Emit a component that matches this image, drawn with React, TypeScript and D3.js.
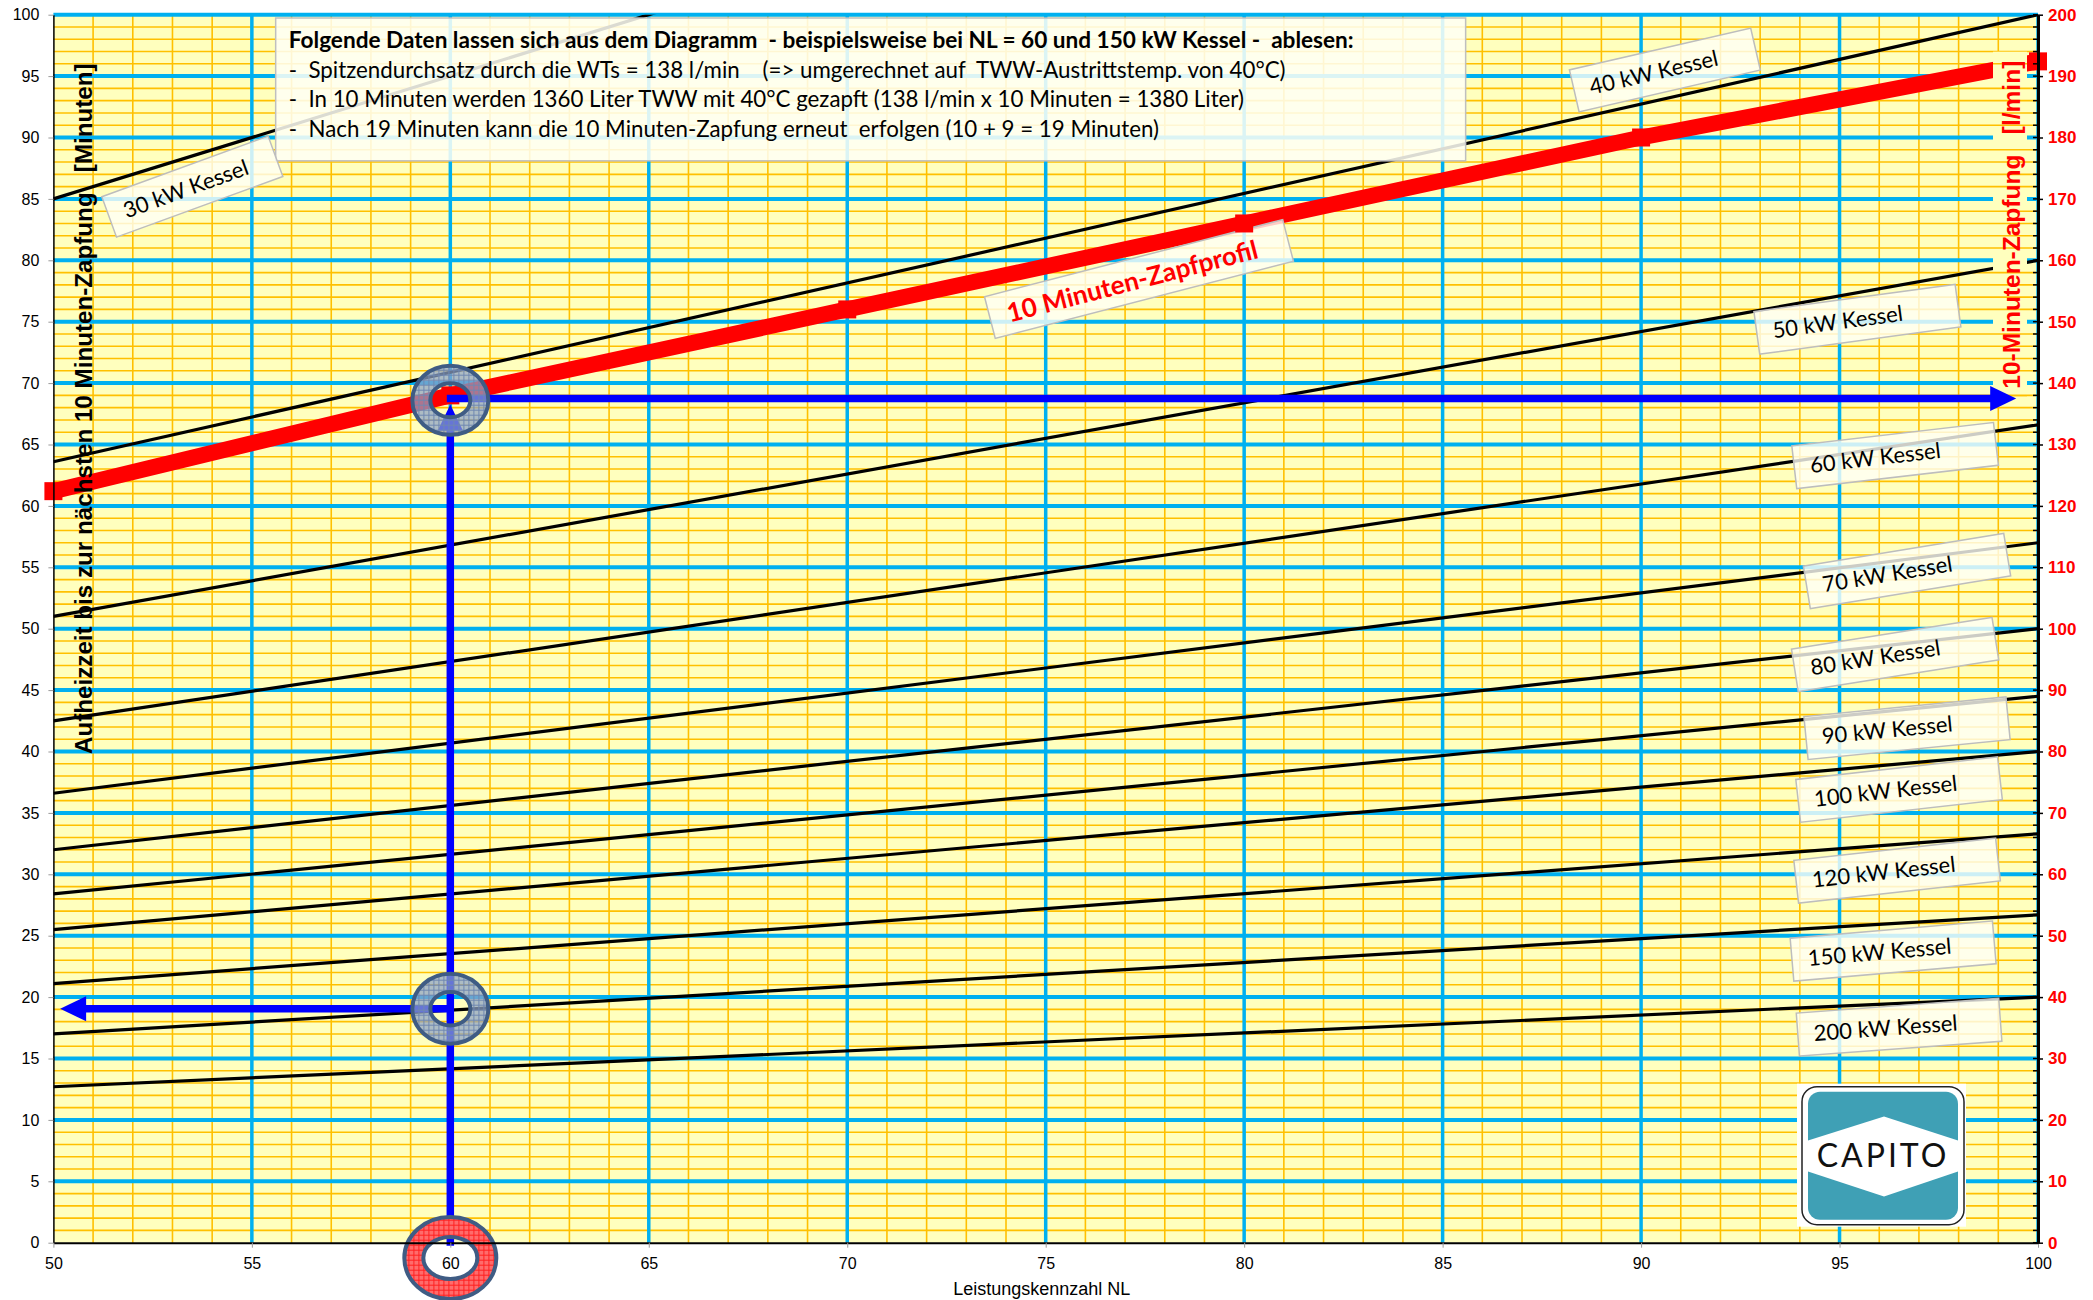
import { useEffect, useRef } from 'react'
import * as d3 from 'd3'

// Aufheizzeit [min] of each boiler line, read at NL = 50 and NL = 100
const kesselLabels = [
  '30 kW Kessel', '40 kW Kessel', '50 kW Kessel', '60 kW Kessel', '70 kW Kessel', '80 kW Kessel',
  '90 kW Kessel', '100 kW Kessel', '120 kW Kessel', '150 kW Kessel', '200 kW Kessel',
]
const kesselNL = [50, 100]
const kesselAt50 = [85, 63.6, 51, 42.5, 36.6, 32, 28.4, 25.5, 21.1, 17, 12.7]
const kesselAt100 = [135, 100, 80, 66.6, 57, 50, 44.5, 40, 33.3, 26.7, 20]

// where the boiler labels sit (NL, minutes) and their tilt
const labelNL = [53.5, 90.6, 95.45, 96.4, 96.7, 96.4, 96.7, 96.5, 96.45, 96.35, 96.5]
const labelMin = [86, 95.5, 75.2, 64.1, 54.7, 47.9, 41.9, 36.9, 30.3, 23.75, 17.55]
const labelAngle = [-20, -13, -7.7, -6.6, -9.3, -9, -5.6, -6.4, -6.3, -4.9, -4.2]

// 10 Minuten-Zapfprofil [l/min]
const zapfNL = [50, 60, 70, 80, 90, 100]
const zapfLmin = [122.4, 138, 152, 166, 180, 192.4]

// example reading at NL = 60
const exampleNL = 60
const exampleLmin = 137.5
const exampleMin = 19.05

const xTicks = [50, 55, 60, 65, 70, 75, 80, 85, 90, 95, 100]
const yTicks = [0, 5, 10, 15, 20, 25, 30, 35, 40, 45, 50, 55, 60, 65, 70, 75, 80, 85, 90, 95, 100]
const y2Ticks = [0, 10, 20, 30, 40, 50, 60, 70, 80, 90, 100, 110, 120, 130, 140, 150, 160, 170, 180, 190, 200]

const infoLines = [
  'Folgende Daten lassen sich aus dem Diagramm  - beispielsweise bei NL = 60 und 150 kW Kessel -  ablesen:',
  '-  Spitzendurchsatz durch die WTs = 138 l/min    (=> umgerechnet auf  TWW-Austrittstemp. von 40°C)',
  '-  In 10 Minuten werden 1360 Liter TWW mit 40°C gezapft (138 l/min x 10 Minuten = 1380 Liter)',
  '-  Nach 19 Minuten kann die 10 Minuten-Zapfung erneut  erfolgen (10 + 9 = 19 Minuten)',
]

const LABEL_FONT = "Lato, Carlito, 'Open Sans', sans-serif"
const AXIS_FONT = "'Liberation Sans', Arial, sans-serif"

// keep repeated blanks visible in svg text
const keepSpaces = (s: string) => s.replace(/ {2,}/g, m => '\u00A0'.repeat(m.length))

export default function App() {
  const svgRef = useRef<SVGSVGElement>(null)

  useEffect(() => {
    if (!svgRef.current) return
    const root = d3.select(svgRef.current)
    root.selectAll('*').remove()

    const margin = { top: 14.7, right: 55, bottom: 57.3, left: 53.4 }
    const width = 2093 - margin.left - margin.right
    const height = 1300 - margin.top - margin.bottom

    const x = d3.scaleLinear().domain([50, 100]).range([0, width])
    const y = d3.scaleLinear().domain([0, 100]).range([height, 0])
    const yR = d3.scaleLinear().domain([0, 200]).range([height, 0])

    // defs: clip + fill patterns for the rings
    const defs = root.append('defs')
    defs.append('clipPath').attr('id', 'plot-clip')
      .append('rect').attr('width', width).attr('height', height)

    const pBlue = defs.append('pattern').attr('id', 'ring-blue')
      .attr('width', 5).attr('height', 5).attr('patternUnits', 'userSpaceOnUse')
    pBlue.append('rect').attr('width', 5).attr('height', 5).attr('fill', '#8DA3C6').attr('fill-opacity', 0.72)
    pBlue.append('path').attr('d', 'M0,0.5H5M0.5,0V5').attr('stroke', '#6F87B0').attr('stroke-width', 1)

    const pRed = defs.append('pattern').attr('id', 'ring-red')
      .attr('width', 5).attr('height', 5).attr('patternUnits', 'userSpaceOnUse')
    pRed.append('rect').attr('width', 5).attr('height', 5).attr('fill', '#FF6B6B')
    pRed.append('path').attr('d', 'M0,0.5H5M0.5,0V5').attr('stroke', '#FF2020').attr('stroke-width', 1)

    const svg = root.append('g')
      .attr('transform', `translate(${margin.left},${margin.top})`)

    // Plot background
    svg.append('rect').attr('width', width).attr('height', height).attr('fill', '#FFFFBE')

    // Minor grid (orange)
    const minorX = d3.range(51, 100).filter(v => v % 5 !== 0)
    const minorY = d3.range(1, 100).filter(v => v % 5 !== 0)
    const grid = svg.append('g')
    grid.selectAll('.mx').data(minorX).join('line')
      .attr('x1', d => x(d)).attr('x2', d => x(d)).attr('y1', 0).attr('y2', height)
      .attr('stroke', '#FFC000').attr('stroke-width', 1.6)
    grid.selectAll('.my').data(minorY).join('line')
      .attr('x1', 0).attr('x2', width).attr('y1', d => y(d)).attr('y2', d => y(d))
      .attr('stroke', '#FFC000').attr('stroke-width', 1.6)

    // Major grid (blue)
    grid.selectAll('.gx').data(xTicks.slice(1)).join('line')
      .attr('x1', d => x(d)).attr('x2', d => x(d)).attr('y1', 0).attr('y2', height)
      .attr('stroke', '#00B0F0').attr('stroke-width', 3.5)
    grid.selectAll('.gy').data(yTicks.slice(1)).join('line')
      .attr('x1', 0).attr('x2', width).attr('y1', d => y(d)).attr('y2', d => y(d))
      .attr('stroke', '#00B0F0').attr('stroke-width', 4)

    // Boiler lines
    const line = d3.line<[number, number]>().x(d => x(d[0])).y(d => y(d[1]))
    const lines = svg.append('g').attr('clip-path', 'url(#plot-clip)')
    kesselLabels.forEach((_, i) => {
      const pts: [number, number][] = [[kesselNL[0], kesselAt50[i]], [kesselNL[1], kesselAt100[i]]]
      lines.append('path').attr('d', line(pts)).attr('fill', 'none')
        .attr('stroke', '#000').attr('stroke-width', 3.2)
    })

    // 10 Minuten-Zapfprofil (right axis)
    const zapf = zapfNL.map((n, i) => [n, zapfLmin[i]] as [number, number])
    const zapfLine = d3.line<[number, number]>().x(d => x(d[0])).y(d => yR(d[1]))
    svg.append('path').attr('d', zapfLine(zapf)).attr('fill', 'none')
      .attr('stroke', '#FF0000').attr('stroke-width', 16)

    // Info box
    const info = svg.append('g')
    info.append('rect')
      .attr('x', x(55.6)).attr('y', y(99.73))
      .attr('width', x(85.58) - x(55.6)).attr('height', y(88.1) - y(99.73))
      .attr('fill', '#FFFFF4').attr('fill-opacity', 0.86)
      .attr('stroke', '#BFBFBF').attr('stroke-width', 1.5)
    infoLines.forEach((t, i) => {
      info.append('text')
        .attr('x', x(55.93))
        .attr('y', 33.3 + i * 29.7)
        .attr('font-family', LABEL_FONT)
        .attr('font-size', i === 0 ? 22.6 : 22.3)
        .attr('font-weight', i === 0 ? 700 : 400)
        .attr('fill', '#000')
        .text(keepSpaces(t))
    })

    // Boiler label boxes
    const labelBox = (nl: number, val: number, ang: number, w: number, text: string, red = false) => {
      const g = svg.append('g')
        .attr('transform', `translate(${x(nl)},${y(val)}) rotate(${ang})`)
      g.append('rect')
        .attr('x', -w / 2).attr('y', -21.5).attr('width', w).attr('height', 43)
        .attr('fill', '#FFFFF6').attr('fill-opacity', 0.8)
        .attr('stroke', '#BDBDBD').attr('stroke-width', 1.5)
      g.append('text')
        .attr('x', -w / 2 + (red ? 18 : 16)).attr('y', red ? 3 : 2)
        .attr('dominant-baseline', 'middle')
        .attr('font-family', LABEL_FONT)
        .attr('font-size', red ? 26 : 22)
        .attr('font-weight', red ? 700 : 400)
        .attr('fill', red ? '#FF0000' : '#000')
        .text(text)
    }
    kesselLabels.forEach((name, i) => {
      const w = i === 0 ? 177 : i === 1 ? 186 : 203
      labelBox(labelNL[i], labelMin[i], labelAngle[i], w, name)
    })
    labelBox(77.35, 78.48, -14.5, 308, '10 Minuten-Zapfprofil', true)

    // Right axis title with its own background
    const tx = width - 45
    svg.append('rect').attr('x', tx).attr('y', 37).attr('width', 34).attr('height', 344)
      .attr('fill', '#FFFFBE')
    svg.append('g').selectAll('line').data(minorY.filter(v => y(v) > 37 && y(v) < 381)).join('line')
      .attr('x1', tx).attr('x2', tx + 34).attr('y1', d => y(d)).attr('y2', d => y(d))
      .attr('stroke', '#FFC000').attr('stroke-width', 1.6)
    svg.append('text')
      .attr('transform', `translate(${tx + 18},${210}) rotate(-90)`)
      .attr('text-anchor', 'middle').attr('dominant-baseline', 'central')
      .attr('font-family', AXIS_FONT).attr('font-size', 24.5).attr('font-weight', 700)
      .attr('fill', '#FF0000')
      .text(keepSpaces('10-Minuten-Zapfung   [l/min]'))

    // Square markers on the red line
    svg.append('g').selectAll('rect').data(zapf).join('rect')
      .attr('x', d => x(d[0]) - 9).attr('y', d => yR(d[1]) - 9)
      .attr('width', 18).attr('height', 18).attr('fill', '#FF0000')

    // Blue reading arrows
    const arrow = (x1: number, y1: number, x2: number, y2: number) => {
      const dx = x2 - x1, dy = y2 - y1
      const len = Math.hypot(dx, dy)
      const ux = dx / len, uy = dy / len
      const head = 26, half = 12.5
      const bx = x2 - ux * head, by = y2 - uy * head
      svg.append('line').attr('x1', x1).attr('y1', y1).attr('x2', bx + ux).attr('y2', by + uy)
        .attr('stroke', '#0000FF').attr('stroke-width', 7.5)
      svg.append('path')
        .attr('d', `M${x2},${y2}L${bx - uy * half},${by + ux * half}L${bx + uy * half},${by - ux * half}Z`)
        .attr('fill', '#0000FF')
    }
    arrow(x(exampleNL), y(-0.25), x(exampleNL), yR(exampleLmin) + 6)
    arrow(x(exampleNL) - 3.5, yR(exampleLmin), x(99.45), yR(exampleLmin))
    arrow(x(exampleNL), y(exampleMin), x(50.17), y(exampleMin))

    // Rings
    const ellipse = (cx: number, cy: number, rx: number, ry: number) =>
      `M${cx - rx},${cy}a${rx},${ry} 0 1,0 ${2 * rx},0a${rx},${ry} 0 1,0 ${-2 * rx},0Z`
    const rings = [
      { nl: exampleNL, v: 68.6, r: [38, 34.5, 20, 17], fill: 'url(#ring-blue)' },
      { nl: exampleNL, v: exampleMin, r: [38, 35, 20, 16.7], fill: 'url(#ring-blue)' },
      { nl: exampleNL, v: -1.25, r: [46, 41, 27, 21], fill: 'url(#ring-red)' },
    ]
    rings.forEach(rg => {
      const cx = x(rg.nl), cy = y(rg.v)
      svg.append('path')
        .attr('d', ellipse(cx, cy, rg.r[0], rg.r[1]) + ellipse(cx, cy, rg.r[2], rg.r[3]))
        .attr('fill', rg.fill).attr('fill-rule', 'evenodd')
        .attr('stroke', '#3F5C84').attr('stroke-width', 4)
    })

    // Left axis
    const yAxis = svg.append('g')
      .call(d3.axisLeft(y).tickValues(yTicks).tickSize(5).tickPadding(9).tickSizeOuter(0))
    yAxis.attr('font-family', AXIS_FONT).attr('font-size', 16)
    yAxis.select('.domain').attr('stroke', '#000').attr('stroke-width', 1.5)
    yAxis.selectAll('.tick line').attr('stroke', '#9A9A9A')
    yAxis.selectAll('.tick text').attr('fill', '#000')

    // Bottom axis
    const xAxis = svg.append('g').attr('transform', `translate(0,${height})`)
      .call(d3.axisBottom(x).tickValues(xTicks).tickSize(5).tickPadding(10).tickSizeOuter(0))
    xAxis.attr('font-family', AXIS_FONT).attr('font-size', 16)
    xAxis.select('.domain').attr('stroke', '#000').attr('stroke-width', 2)
    xAxis.selectAll('.tick line').attr('stroke', '#9A9A9A')
    xAxis.selectAll('.tick text').attr('fill', '#000')

    // Right axis (l/min)
    const rAxis = svg.append('g').attr('transform', `translate(${width},0)`)
    rAxis.selectAll('.minor').data(d3.range(0, 201, 2)).join('line')
      .attr('x1', -5).attr('x2', 0).attr('y1', d => yR(d)).attr('y2', d => yR(d))
      .attr('stroke', '#000').attr('stroke-width', 1.5)
    rAxis.call(d3.axisRight(yR).tickValues(y2Ticks).tickSize(5).tickPadding(5).tickSizeOuter(0))
    rAxis.attr('font-family', AXIS_FONT).attr('font-size', 17)
    rAxis.select('.domain').attr('stroke', '#000').attr('stroke-width', 3)
    rAxis.selectAll('.tick line').attr('stroke', '#000').attr('stroke-width', 1.5)
    rAxis.selectAll('.tick text').attr('fill', '#FF0000').attr('font-weight', 700)

    // Axis titles
    svg.append('text')
      .attr('transform', `translate(${29.6},${394}) rotate(-90)`)
      .attr('text-anchor', 'middle').attr('dominant-baseline', 'central')
      .attr('font-family', AXIS_FONT).attr('font-size', 24.2).attr('font-weight', 700)
      .attr('fill', '#000')
      .text(keepSpaces('Aufheizzeit bis zur nächsten 10 Minuten-Zapfung   [Minuten]'))

    svg.append('text')
      .attr('x', width / 2 - 4).attr('y', height + 46)
      .attr('text-anchor', 'middle').attr('dominant-baseline', 'central')
      .attr('font-family', AXIS_FONT).attr('font-size', 18).attr('fill', '#000')
      .text('Leistungskennzahl NL')

    // CAPITO logo
    const logo = svg.append('g').attr('transform', `translate(${width - 241},${height - 159})`)
    logo.append('rect').attr('width', 169).attr('height', 143).attr('fill', '#FFFFFF')
    logo.append('rect').attr('x', 5).attr('y', 3).attr('width', 162).attr('height', 138)
      .attr('rx', 15).attr('fill', '#FFFFFF').attr('stroke', '#222').attr('stroke-width', 1.5)
    logo.append('rect').attr('x', 11).attr('y', 8).attr('width', 150).attr('height', 128)
      .attr('rx', 12).attr('fill', '#3FA0B5')
    logo.append('path')
      .attr('d', 'M11,56.7L87,32.7L161,56.7L161,87.7L87,112.7L11,87.7Z')
      .attr('fill', '#FFFFFF')
    logo.append('text')
      .attr('x', 86).attr('y', 83.3).attr('text-anchor', 'middle')
      .attr('font-family', LABEL_FONT).attr('font-size', 32)
      .attr('letter-spacing', 3).attr('fill', '#111')
      .text('CAPITO')
  }, [])

  return (
    <div style={{ position: 'absolute', left: 0, top: 0 }}>
      <svg ref={svgRef} width={2093} height={1300} style={{ display: 'block', background: '#fff' }} />
    </div>
  )
}
